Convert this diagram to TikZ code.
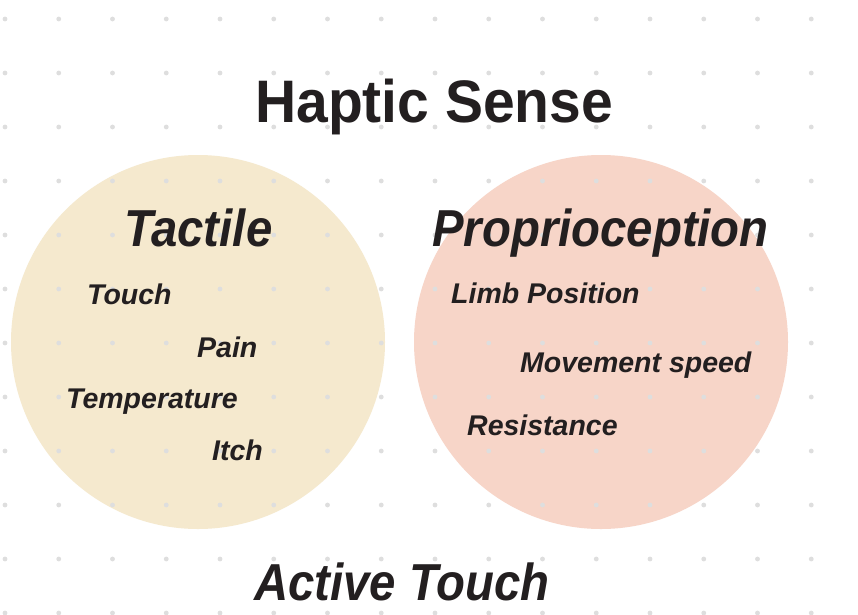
\documentclass[tikz,border=0pt]{standalone}
\usepackage{fontspec}
\setmainfont{Liberation Sans}
\newfontfamily\headfont[FakeStretch=0.91]{Liberation Sans}
\newfontfamily\titlefont[FakeStretch=0.95]{Liberation Sans}
\usepackage{tikz}
\definecolor{inkdark}{HTML}{231F20}
\definecolor{tactfill}{HTML}{F5E9CE}
\definecolor{propfill}{HTML}{F7D5C8}
\definecolor{griddot}{HTML}{DEDEDE}
\tikzstyle{sense} = [circle, minimum size=374pt, inner sep=0pt, draw=none]
\tikzstyle{heading} = [anchor=base west, inner sep=0pt, text=inkdark,
  font=\headfont\bfseries\itshape\fontsize{52}{60}\selectfont]
\tikzstyle{item} = [anchor=base west, inner sep=0pt, text=inkdark,
  font=\bfseries\itshape\fontsize{28.5}{34}\selectfont]

\begin{document}
\begin{tikzpicture}[x=1pt, y=-1pt]
  \useasboundingbox [fill=white] (0,0) rectangle (858,614);
  % the two circles
  \node (tactcirc) [sense, fill=tactfill] at (198,342) {};
  \node (propcirc) [sense, fill=propfill] at (601,342) {};
  % dot grid
  \foreach \i in {0,...,15}
    \foreach \j in {0,...,11}
      \fill [griddot] (5+53.75*\i, 19+54*\j) circle (2.4pt);
  % texts
  \node (title) [anchor=base west, inner sep=0pt, text=inkdark,
    font=\titlefont\bfseries\fontsize{60}{70}\selectfont] at (255,122)
    {Haptic Sense};
  \node (tactile) [heading] at (124,246) {Tactile};
  \node (proprio) [heading] at (432,246) {Proprioception};
  \node (touch) [item] at (87,304) {Touch};
  \node (pain) [item] at (197,357) {Pain};
  \node (temp) [item] at (66,408) {Temperature};
  \node (itch) [item] at (212,460) {Itch};
  \node (limb) [item] at (451,303) {Limb Position};
  \node (speed) [item] at (520,372) {Movement speed};
  \node (resist) [item] at (467,435) {Resistance};
  \node (active) [heading] at (254,600) {Active Touch};
\end{tikzpicture}
\end{document}
